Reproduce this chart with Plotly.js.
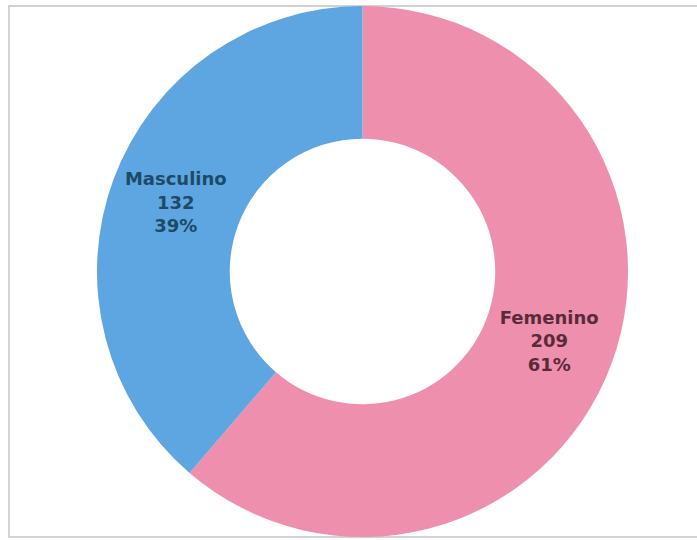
<!DOCTYPE html>
<html>
<head>
<meta charset="utf-8">
<script src="https://cdn.plot.ly/plotly-3.0.1.min.js"></script>
<style>html,body{margin:0;padding:0;background:#fff;}#chart{width:697px;height:540px;}</style>
</head>
<body>
<div id="chart"></div>
<script>
const categories = ["Femenino", "Masculino"];
const values = [209, 132];
const sliceColors = ["#EE8FAE", "#5EA6E2"];
const textColors = ["#5a2a3a", "#1d4a66"];

const W = 697, H = 540;
const trace = {
  type: "pie",
  labels: categories,
  values: values,
  hole: 0.5,
  sort: false,
  direction: "clockwise",
  rotation: 0,
  marker: { colors: sliceColors, line: { width: 0 } },
  texttemplate: "<b>%{label}</b><br><b>%{value}</b><br><b>%{percent:.0%}</b>",
  textposition: "inside",
  insidetextorientation: "horizontal",
  textfont: { family: "DejaVu Sans, Arial, sans-serif", size: 18, color: textColors },
  hoverinfo: "label+value+percent",
  showlegend: false,
  domain: { x: [97 / W, 628 / W], y: [3 / H, 534 / H] }
};

const layout = {
  width: W, height: H,
  margin: { l: 0, r: 0, t: 0, b: 0 },
  paper_bgcolor: "#ffffff",
  showlegend: false,
  shapes: [{
    type: "rect", xref: "paper", yref: "paper",
    x0: 9 / W, x1: 1.05, y0: 3 / H, y1: 534 / H,
    line: { color: "#c4c4c4", width: 1.5 }, fillcolor: "rgba(0,0,0,0)", layer: "below"
  }]
};

Plotly.newPlot("chart", [trace], layout, { displayModeBar: false, staticPlot: true });
</script>
</body>
</html>
